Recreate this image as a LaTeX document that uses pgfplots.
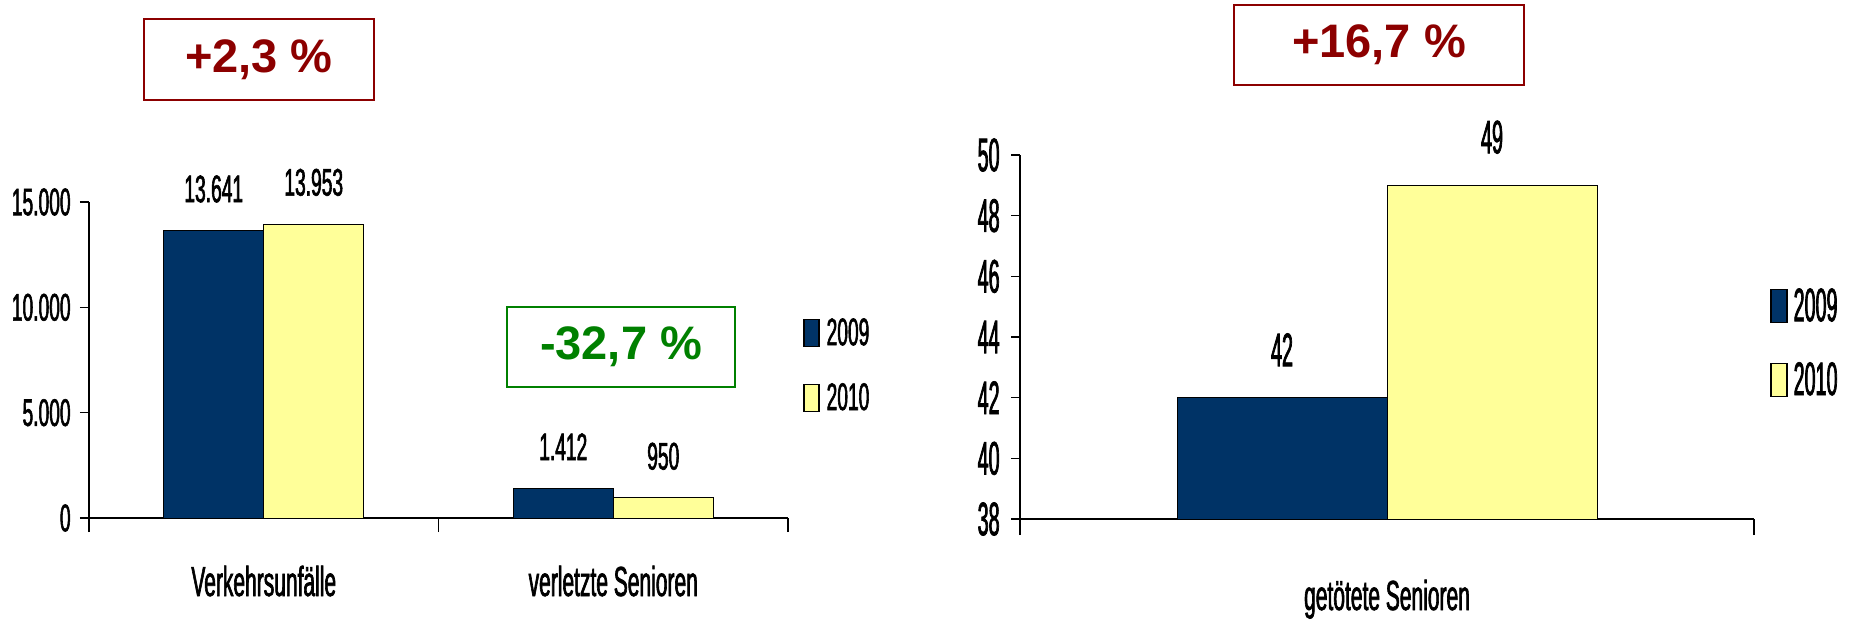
\documentclass[border=0pt]{standalone}
\usepackage{fontspec}
\setmainfont{Liberation Sans}
\newfontfamily\condA{Liberation Sans}[FakeStretch=0.5,FakeBold=1.5]
\newfontfamily\condB{Liberation Sans}[FakeStretch=0.42,FakeBold=1.5]
\usepackage{pgfplots}
\pgfplotsset{compat=1.18}
\definecolor{navy}{RGB}{0,51,102}
\definecolor{paleyel}{RGB}{255,255,153}
\definecolor{dred}{RGB}{140,0,0}
\definecolor{dgreen}{RGB}{0,128,0}
\begin{document}
\begin{tikzpicture}
\useasboundingbox (0,0) rectangle (925pt,-310pt);
\begin{axis}[
  at={(44.5pt,-259pt)}, anchor=south west,
  scale only axis, width=349.5pt, height=158pt,
  xmin=-0.5, xmax=1.5, ymin=0, ymax=15000,
  axis x line*=bottom, axis y line*=left,
  ybar=0pt, bar width=50pt,
  xtick={0,1}, xticklabels={Verkehrsunfälle, verletzte Senioren},
  minor xtick={-0.5,0.5,1.5},
  ytick={0,5000,10000,15000},
  scaled y ticks=false,
  tick align=outside,
  major tick length=4.5pt, minor tick length=7pt,
  every major x tick/.append style={draw=none},
  /pgf/number format/1000 sep={.},
  /pgf/number format/assume math mode=true,
  tick label style={font=\condA\fontsize{19.2}{20}\selectfont},
  yticklabel style={inner sep=0pt, xshift=-4.5pt},
  xticklabel style={font=\condA\fontsize{21}{22}\selectfont, anchor=base, yshift=-34.5pt},
  axis line style={line width=0.75pt, black},
  tick style={black, line width=0.6pt},
  nodes near coords,
  nodes near coords style={font=\condA\fontsize{19.2}{20}\selectfont, text=black, anchor=south, inner sep=0pt, yshift=13.8pt},
  legend style={at={(1.0215,0.633)}, anchor=north west, draw=none, fill=none, inner sep=0pt,
    row sep=17.5pt, font=\condA\fontsize{19.2}{20}\selectfont, nodes={inner sep=0pt},
    /tikz/every odd column/.append style={column sep=3.5pt}},
]
\addplot[fill=navy, draw=black, line width=0.5pt,
  legend image code/.code={\draw[fill=navy,draw=black,line width=0.6pt] (0pt,-6.75pt) rectangle (7.5pt,6.75pt);}]
  coordinates {(0,13641) (1,1412)};
\addlegendentry{2009}
\addplot[fill=paleyel, draw=black, line width=0.5pt,
  legend image code/.code={\draw[fill=paleyel,draw=black,line width=0.6pt] (0pt,-6.75pt) rectangle (7.5pt,6.75pt);}]
  coordinates {(0,13953) (1,950)};
\addlegendentry{2010}
\end{axis}

\begin{axis}[
  at={(510pt,-259.5pt)}, anchor=south west,
  scale only axis, width=367pt, height=182pt,
  xmin=-0.5, xmax=0.5, ymin=38, ymax=50,
  axis x line*=bottom, axis y line*=left,
  ybar=0pt, bar width=105pt,
  xtick={0}, xticklabels={getötete Senioren},
  minor xtick={-0.5,0.5},
  ytick={38,40,42,44,46,48,50},
  tick align=outside,
  major tick length=4.5pt, minor tick length=8pt,
  every major x tick/.append style={draw=none},
  /pgf/number format/assume math mode=true,
  tick label style={font=\condB\fontsize{23.5}{25}\selectfont},
  yticklabel style={inner sep=0pt, xshift=-5.5pt},
  xticklabel style={font=\condA\fontsize{21}{22}\selectfont, anchor=base, yshift=-41pt},
  axis line style={line width=0.75pt, black},
  tick style={black, line width=0.6pt},
  nodes near coords,
  nodes near coords style={font=\condB\fontsize{23.5}{25}\selectfont, text=black, anchor=south, inner sep=0pt, yshift=15.5pt},
  legend style={at={(1.0218,0.6346)}, anchor=north west, draw=none, fill=none, inner sep=0pt,
    row sep=19pt, font=\condB\fontsize{23.5}{25}\selectfont, nodes={inner sep=0pt},
    /tikz/every odd column/.append style={column sep=3pt}},
]
\addplot[fill=navy, draw=black, line width=0.5pt,
  legend image code/.code={\draw[fill=navy,draw=black,line width=0.6pt] (0pt,-8.25pt) rectangle (8pt,8.25pt);}]
  coordinates {(0,42)};
\addlegendentry{2009}
\addplot[fill=paleyel, draw=black, line width=0.5pt,
  legend image code/.code={\draw[fill=paleyel,draw=black,line width=0.6pt] (0pt,-8.25pt) rectangle (8pt,8.25pt);}]
  coordinates {(0,49)};
\addlegendentry{2010}
\end{axis}

\node[draw=dred, line width=1.3pt, minimum width=115pt, minimum height=40.5pt, inner sep=0pt,
  text=dred, font=\bfseries\fontsize{23.5}{24}\selectfont] at (129.5pt,-29.75pt) {+2,3 \%};
\node[draw=dgreen, line width=1.3pt, minimum width=114pt, minimum height=40pt, inner sep=0pt,
  text=dgreen, font=\bfseries\fontsize{23.5}{24}\selectfont] at (310.5pt,-173.5pt) {-32,7 \%};
\node[draw=dred, line width=1.3pt, minimum width=145pt, minimum height=40pt, inner sep=0pt,
  text=dred, font=\bfseries\fontsize{23.5}{24}\selectfont] at (689.5pt,-22.5pt) {+16,7 \%};
\end{tikzpicture}
\end{document}
